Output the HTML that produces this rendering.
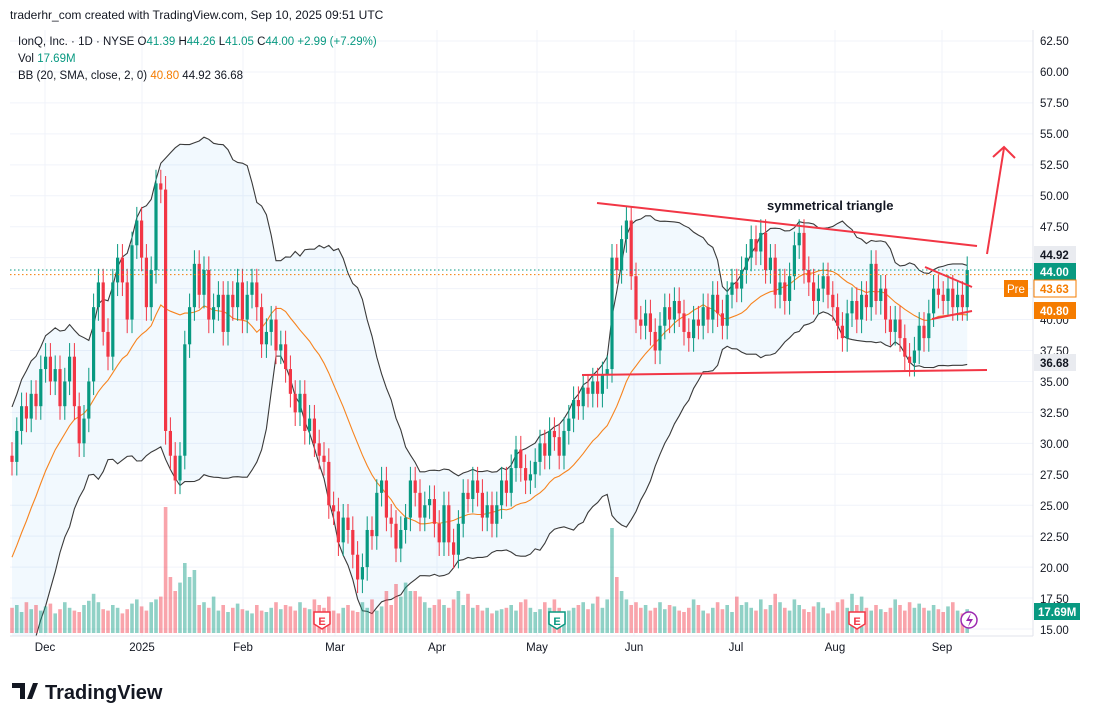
<!DOCTYPE html>
<html><head><meta charset="utf-8"><style>
body{margin:0;background:#fff;font-family:"Liberation Sans",sans-serif;}
#wrap{position:relative;width:1097px;height:721px;overflow:hidden;background:#fff}
svg text{font-family:"Liberation Sans",sans-serif}
</style></head><body>
<div id="wrap">
<svg id="chart" width="1097" height="721"></svg>
</div>
<script>
const warmup=[12,12.5,13,13,14,15,17,18,19,20,22,24,23,25,27,26,28,30,29];
const closes=[28.5,31,33,32,34,33,36,37,35,36,33,35,37,33,30,32,35,41,43,39,
37,43,45,43,40,46,48,45,41,44,51,50.5,31,29,27,29,38,41,44.5,42,
44,40,41,42,39,42,41,43,40,42,43,41,38,39,40,37.5,38,36,34,32.5,
34,31,32,30,29,28.5,25,24.5,22,24,23,21,19,20,23,22.5,26,27,24,23.5,
21.5,23,24,27,26,24,25,25.5,23.5,22,25,22,21,23.5,26,25.5,27,26,24,25,
23.5,25,27,26,28,29.5,28,27,27.5,28.5,30,29,31,30.5,29,31,32,33.5,33,34.5,
34,35,34,35.5,36,45,44,46.5,48,43.5,40,39.5,40.5,39,37.5,39.5,41,40,41.5,40.5,
39,38.5,40,39.5,41,40,42,40.5,39.5,42,43,42.5,44,45,46.5,45.5,47,44,45,42,
43,41.5,43.5,46,47,44,43,41.5,42.5,43.5,42,41,39.5,38.5,40.5,41.5,40,42,41,44.5,
41.5,42.5,40,39,40,38.5,37,36.5,37.5,39.5,38.5,40.5,42.5,42,41.5,42.5,41,42,41,44];
const volumes=[18,20,15,22,17,20,16,19,21,14,17,22,18,16,15,20,23,28,22,17,
16,20,18,14,17,21,24,19,16,22,24,26,90,40,30,36,50,40,45,20,
22,18,26,16,20,15,18,21,17,16,14,20,16,15,18,22,17,20,19,16,
22,18,17,24,20,18,26,16,14,18,20,16,15,22,18,24,16,19,30,20,
35,26,36,30,30,26,22,18,20,24,20,18,24,30,20,28,18,20,16,18,
14,16,17,18,20,16,22,24,18,15,17,22,18,24,18,14,16,18,20,22,
17,21,26,18,24,75,40,30,24,20,22,18,20,16,18,22,17,20,19,16,
15,18,24,20,16,14,18,22,17,20,15,26,20,22,18,16,24,17,20,28,
22,18,16,24,20,17,15,19,22,18,14,16,22,24,18,28,20,26,18,16,
20,17,15,18,24,20,16,22,18,21,18,16,20,17,15,19,22,16,14,17];
const priceTicks=[62.5,60,57.5,55,52.5,50,47.5,45,42.5,40,37.5,35,32.5,30,27.5,25,22.5,20,17.5,15];
const months=[["Dec",45],["2025",142],["Feb",243],["Mar",335],["Apr",437],["May",537],["Jun",634],["Jul",736],["Aug",835],["Sep",942]];

const NS="http://www.w3.org/2000/svg";
const svg=document.getElementById('chart');
function y(p){return 629-(p-15)*12.378;}
function x(i){return 12+i*4.8;}
function mk(tag,attrs,parent){const e=document.createElementNS(NS,tag);for(const k in attrs)e.setAttribute(k,attrs[k]);(parent||svg).appendChild(e);return e;}

const plot=mk('g',{});


const clipD=mk('defs',{});
const cp=mk('clipPath',{id:'clip'},clipD);mk('rect',{x:10,y:30,width:1023,height:606},cp);
priceTicks.forEach(p=>{const l=mk('line',{x1:10,x2:1033,y1:y(p),y2:y(p),stroke:'#f0f3fa','stroke-width':1},plot);
});
months.forEach(m=>{const l=mk('line',{x1:m[1],x2:m[1],y1:30,y2:636,stroke:'#f0f3fa','stroke-width':1},plot);
});

const all=warmup.concat(closes);
const mid=[],up=[],lo=[];
for(let i=0;i<closes.length;i++){const j=i+warmup.length;const w=all.slice(Math.max(0,j-19),j+1);
const m=w.reduce((a,b)=>a+b,0)/w.length;const sd=Math.sqrt(w.reduce((a,b)=>a+(b-m)*(b-m),0)/w.length);
mid.push(m);up.push(m+2*sd);lo.push(m-2*sd);}
const g=mk('g',{'clip-path':'url(#clip)'},plot);
let fillD='M'+up.map((v,i)=>x(i)+','+y(v)).join('L')+'L'+lo.map((v,i)=>[x(i),y(v)]).reverse().map(a=>a.join(',')).join('L')+'Z';
const bf=mk('path',{d:fillD,fill:'rgba(33,150,243,0.06)'},g);

function line(arr,col,name,w){const p=mk('path',{d:'M'+arr.map((v,i)=>x(i)+','+y(v)).join('L'),fill:'none',stroke:col,'stroke-width':w},g);
}
line(up,'#3a3a3a','bb-upper-band',1.1);line(lo,'#3a3a3a','bb-lower-band',1.1);line(mid,'#f7841f','bb-middle-band',1.1);

volumes.forEach((v,i)=>{const o=i==0?warmup[warmup.length-1]:closes[i-1];const c=closes[i];
const h=v*1.4;const r=mk('rect',{x:x(i)-1.8,y:633-h,width:3.6,height:h,fill:c>=o?'rgba(8,153,129,0.45)':'rgba(242,54,69,0.45)'},g);
});

closes.forEach((c,i)=>{const o=i==0?warmup[warmup.length-1]:closes[i-1];const col=c>=o?'#089981':'#f23645';
const hi=Math.max(o,c)+1.1,lw=Math.min(o,c)-1.1;
const wk=mk('line',{x1:x(i),x2:x(i),y1:y(hi),y2:y(lw),stroke:col,'stroke-width':1},g);

const b=mk('rect',{x:x(i)-1.6,y:y(Math.max(o,c)),width:3.2,height:Math.max(1,Math.abs(y(o)-y(c))),fill:col},g);
});

const dl1=mk('line',{x1:10,x2:1033,y1:y(44),y2:y(44),stroke:'#089981','stroke-dasharray':'1.5 2.5','stroke-width':1},plot);

const dl2=mk('line',{x1:10,x2:1033,y1:y(43.63),y2:y(43.63),stroke:'#f57c00','stroke-dasharray':'1.5 2.5','stroke-width':1},plot);

</script>
<svg width="1097" height="721" style="position:absolute;left:0;top:0">
<g stroke="#f23645" stroke-width="2" fill="none">
<line x1="597" y1="203" x2="977" y2="246"/>
<line x1="582" y1="375" x2="987" y2="370"/>
<line x1="925" y1="267" x2="972" y2="287"/>
<line x1="932" y1="319" x2="972" y2="311"/>
<line x1="987" y1="254" x2="1004" y2="148"/>
<polyline points="993,157 1004,147 1015,158"/>
</g>
<text x="767" y="210" font-size="13" font-weight="bold" fill="#131722">symmetrical triangle</text>
<g font-size="11" font-weight="bold" text-anchor="middle">
<path d="M314,612h16v12l-8,5l-8,-5z" fill="#fff" stroke="#f23645" stroke-width="1.5"/><text x="322" y="625" fill="#f23645">E</text>
<path d="M549,612h16v12l-8,5l-8,-5z" fill="#fff" stroke="#089981" stroke-width="1.5"/><text x="557" y="625" fill="#089981">E</text>
<path d="M849,612h16v12l-8,5l-8,-5z" fill="#fff" stroke="#f23645" stroke-width="1.5"/><text x="857" y="625" fill="#f23645">E</text>
<circle cx="969" cy="620" r="8" fill="#fff" stroke="#9c27b0" stroke-width="1.5"/><path d="M971,613l-5,8h4l-2,6l5,-8h-4z" fill="#9c27b0"/>
</g>
<line x1="1033" y1="30" x2="1033" y2="636" stroke="#e0e3eb"/>
<line x1="10" y1="636" x2="1033" y2="636" stroke="#e0e3eb"/>
<g font-size="11.5" fill="#131722">
<text x="1040" y="45">62.50</text><text x="1040" y="76">60.00</text><text x="1040" y="107">57.50</text><text x="1040" y="138">55.00</text><text x="1040" y="169">52.50</text><text x="1040" y="200">50.00</text><text x="1040" y="231">47.50</text><text x="1040" y="324">40.00</text><text x="1040" y="355">37.50</text><text x="1040" y="386">35.00</text><text x="1040" y="417">32.50</text><text x="1040" y="448">30.00</text><text x="1040" y="479">27.50</text><text x="1040" y="510">25.00</text><text x="1040" y="541">22.50</text><text x="1040" y="572">20.00</text><text x="1040" y="603">17.50</text><text x="1040" y="634">15.00</text>
</g>
<g font-size="11.5" font-weight="bold">
<rect x="1034" y="246" width="42" height="17" fill="#e9ebf0"/><text x="1040" y="259" fill="#131722">44.92</text>
<rect x="1034" y="263" width="42" height="17" fill="#089981"/><text x="1040" y="276" fill="#fff">44.00</text>
<rect x="1004" y="280" width="24" height="17" fill="#f57c00"/><text x="1007" y="293" fill="#fff" font-weight="normal">Pre</text>
<rect x="1034" y="280" width="42" height="17" fill="#fff" stroke="#f57c00"/><text x="1040" y="293" fill="#f57c00">43.63</text>
<rect x="1034" y="302" width="42" height="17" fill="#f57c00"/><text x="1040" y="315" fill="#fff">40.80</text>
<rect x="1034" y="354" width="42" height="17" fill="#e9ebf0"/><text x="1040" y="367" fill="#131722">36.68</text>
<rect x="1034" y="603" width="46" height="17" fill="#089981"/><text x="1038" y="616" fill="#fff">17.69M</text>
</g>
<g font-size="11.5" fill="#131722" text-anchor="middle">
<text x="45" y="651">Dec</text><text x="142" y="651">2025</text><text x="243" y="651">Feb</text><text x="335" y="651">Mar</text><text x="437" y="651">Apr</text><text x="537" y="651">May</text><text x="634" y="651">Jun</text><text x="736" y="651">Jul</text><text x="835" y="651">Aug</text><text x="942" y="651">Sep</text>
</g>
<text x="10" y="19" font-size="12" fill="#131722">traderhr_com created with TradingView.com, Sep 10, 2025 09:51 UTC</text>
<g font-size="11.5">
<text x="18" y="45" fill="#131722">IonQ, Inc. · 1D · NYSE  <tspan>O</tspan><tspan fill="#089981">41.39</tspan> H<tspan fill="#089981">44.26</tspan> L<tspan fill="#089981">41.05</tspan> C<tspan fill="#089981">44.00 +2.99 (+7.29%)</tspan></text>
<text x="18" y="62" fill="#131722">Vol <tspan fill="#089981">17.69M</tspan></text>
<text x="18" y="79" fill="#131722">BB (20, SMA, close, 2, 0) <tspan fill="#f57c00">40.80</tspan> <tspan fill="#131722">44.92</tspan> <tspan fill="#131722">36.68</tspan></text>
</g>
<g>
<path d="M12,683h13v16h-5v-11h-8z M27,699l6,-16h5l-6,16z" fill="#131722"/>
<text x="45" y="699" font-size="20" font-weight="bold" fill="#131722">TradingView</text>
</g>
</svg>
</body></html>
